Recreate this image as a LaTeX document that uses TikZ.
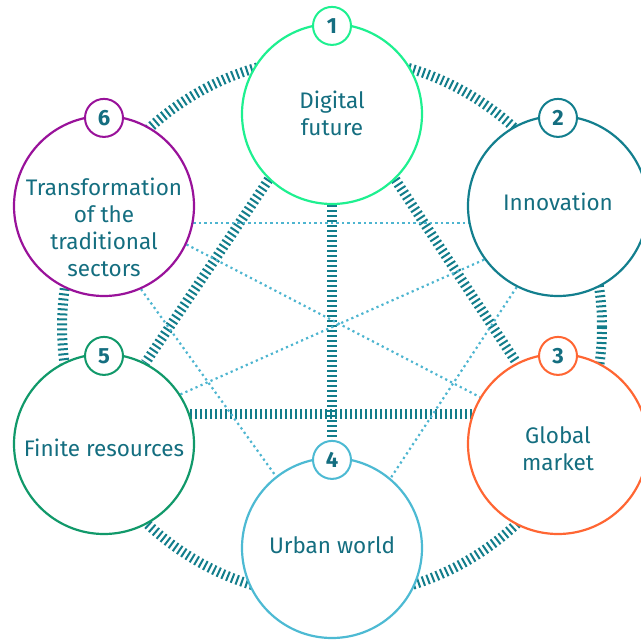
\documentclass[tikz,border=0pt]{standalone}
\usepackage{fontspec}
\setmainfont{Fira Sans}
\usetikzlibrary{positioning, calc, backgrounds}

\definecolor{digitalcol}{HTML}{1EF090}
\definecolor{innovcol}{HTML}{137F8E}
\definecolor{globalcol}{HTML}{FF6633}
\definecolor{urbancol}{HTML}{4DBAD3}
\definecolor{finitecol}{HTML}{11996A}
\definecolor{tradcol}{HTML}{99129A}
\definecolor{inkcol}{HTML}{146E80}
\definecolor{hatchcol}{HTML}{127D8B}
\definecolor{dotcol}{HTML}{4DB5D0}

\begin{document}
\begin{tikzpicture}[x=1pt, y=-1pt,
    every node/.style={font=\fontsize{22.5}{27}\selectfont, text=inkcol},
    every label/.style={align=center},
    topic/.style={circle, draw, line width=2.2pt, fill=white, minimum size=180pt, inner sep=0pt},
    badge/.style={circle, draw, line width=2pt, fill=white, minimum size=38pt, inner sep=0pt, font=\fontsize{22}{22}\selectfont\bfseries},
    hatch/.style={draw=hatchcol, line width=10pt, dash pattern=on 2pt off 3pt},
    weak/.style={draw=dotcol, line width=2.2pt, dash pattern=on 2.2pt off 3.3pt}]

    \useasboundingbox (0,0) rectangle (641,640);

    % Topics
    \node[topic, draw=digitalcol, label={[name=digitaltext, yshift=1pt]center:Digital\\future}] (digital) at (332,114) {};
    \node[topic, draw=innovcol, label={[name=innovtext, yshift=4pt]center:Innovation}] (innov) at (558,206) {};
    \node[topic, draw=globalcol, label={[name=globaltext, yshift=-5pt]center:Global\\market}] (global) at (558,444) {};
    \node[topic, draw=urbancol, label={[name=urbantext, yshift=3pt]center:Urban world}] (urban) at (332,548) {};
    \node[topic, draw=finitecol, label={[name=finitetext, yshift=-4pt]center:Finite resources}] (finite) at (104,444) {};
    \node[topic, draw=tradcol, label={[name=tradtext, yshift=-21pt]center:Transformation\\of the\\traditional\\sectors}] (trad) at (104,206) {};

    % Badges
    \node[badge, draw=digitalcol] (b1) at ($(digital.north)+(0,3)$) {1};
    \node[badge, draw=innovcol] (b2) at ($(innov.north)+(0,3)$) {2};
    \node[badge, draw=globalcol] (b3) at ($(global.north)+(0,3)$) {3};
    \node[badge, draw=urbancol] (b4) at ($(urban.north)+(0,3)$) {4};
    \node[badge, draw=finitecol] (b5) at ($(finite.north)+(0,3)$) {5};
    \node[badge, draw=tradcol] (b6) at ($(trad.north)+(0,3)$) {6};

    \begin{scope}[on background layer]
        % Outer ring
        \coordinate (hub) at (332,327);
        \draw[hatch] (hub) circle (270);

        % Strong links
        \draw[hatch] (digital.south) -- (b4.north);
        \draw[hatch] (digital.-46) -- (global.117);
        \draw[hatch] (digital.-134) -- (finite.63);
        \draw[hatch] (finite.19) -- (global.161);

        % Weak links
        \draw[weak] (trad.-11.5) -- (innov.191.5);
        \draw[weak] (trad.-25.6) -- (global.149);
        \draw[weak] (finite.33) -- (innov.216.5);
        \draw[weak] (trad.-66) -- (urban.128);
        \draw[weak] (innov.243.4) -- (urban.50);
    \end{scope}
\end{tikzpicture}
\end{document}
